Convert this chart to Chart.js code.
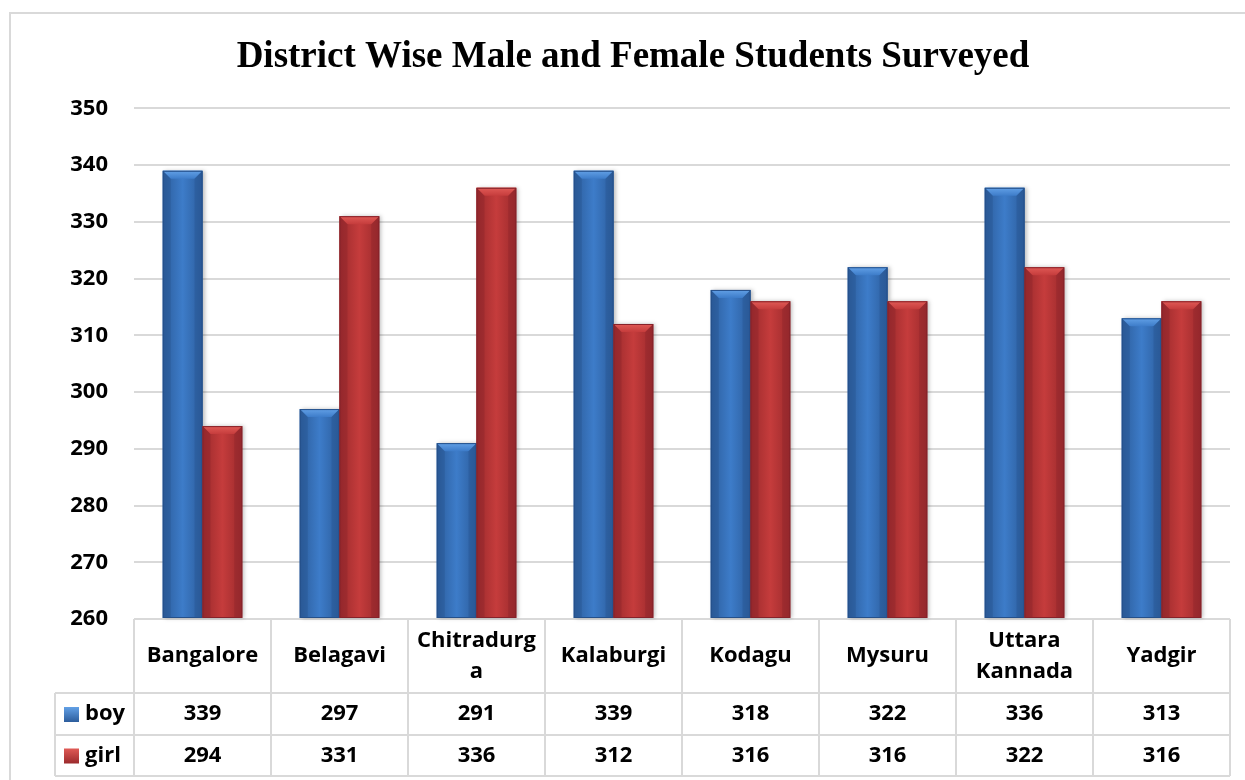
<!DOCTYPE html>
<html>
<head>
<meta charset="utf-8">
<title>District Wise Male and Female Students Surveyed</title>
<script src="https://cdn.jsdelivr.net/npm/chart.js@4.4.1/dist/chart.umd.min.js"></script>
<style>
  html, body { margin: 0; padding: 0; background: #fff; }
  #wrap { position: relative; width: 1245px; height: 780px; }
</style>
</head>
<body>
<div id="wrap"><canvas id="surveyChart" width="1245" height="780"></canvas></div>
<script>
// ===== DATA =====
const districts = [
    ['Bangalore'], ['Belagavi'], ['Chitradurg', 'a'], ['Kalaburgi'],
    ['Kodagu'], ['Mysuru'], ['Uttara', 'Kannada'], ['Yadgir']
];
const boyCounts = [339, 297, 291, 339, 318, 322, 336, 313];
const girlCounts = [294, 331, 336, 312, 316, 316, 322, 316];
const yTicks = [260, 270, 280, 290, 300, 310, 320, 330, 340, 350];

const labelFamily = '"Open Sans", "Noto Sans", sans-serif';
const labelFont = 'bold 22px ' + labelFamily;
const gridColor = '#d9d9d9';

// bar shading: [edge, middle, bevel light, bevel dark]
const shades = {
    boy: ['#2c5d9c', '#3d7cc9', '#62a0e6', '#25508a'],
    girl: ['#9b2a2c', '#c53c3c', '#e05a56', '#86222a']
};

// ===== PLUGINS =====
// repaints each bar with a bevelled, gradient look
const bevelBars = {
    id: 'bevelBars',
    afterDatasetsDraw(chart) {
        const ctx = chart.ctx;
        chart.data.datasets.forEach((ds, i) => {
            const s = shades[ds.key];
            chart.getDatasetMeta(i).data.forEach(bar => {
                const left = bar.x - bar.width / 2;
                const right = bar.x + bar.width / 2;
                const top = bar.y;
                const bottom = bar.base;
                const b = 8;
                ctx.save();
                ctx.shadowColor = 'rgba(0,0,0,0.25)';
                ctx.shadowBlur = 4;
                ctx.shadowOffsetX = 2;
                const g = ctx.createLinearGradient(left, 0, right, 0);
                g.addColorStop(0, s[0]);
                g.addColorStop(0.5, s[1]);
                g.addColorStop(1, s[0]);
                ctx.fillStyle = g;
                ctx.fillRect(left, top, right - left, bottom - top);
                ctx.restore();

                ctx.save();
                // top bevel
                const tg = ctx.createLinearGradient(0, top, 0, top + b);
                tg.addColorStop(0, s[2]);
                tg.addColorStop(1, s[1]);
                ctx.fillStyle = tg;
                ctx.beginPath();
                ctx.moveTo(left, top);
                ctx.lineTo(right, top);
                ctx.lineTo(right - b, top + b);
                ctx.lineTo(left + b, top + b);
                ctx.closePath();
                ctx.fill();
                // side bevels
                ctx.globalAlpha = 0.35;
                ctx.fillStyle = s[3];
                ctx.beginPath();
                ctx.moveTo(right, top);
                ctx.lineTo(right, bottom);
                ctx.lineTo(right - b, bottom);
                ctx.lineTo(right - b, top + b);
                ctx.closePath();
                ctx.fill();
                ctx.beginPath();
                ctx.moveTo(left, top);
                ctx.lineTo(left, bottom);
                ctx.lineTo(left + b, bottom);
                ctx.lineTo(left + b, top + b);
                ctx.closePath();
                ctx.fill();
                ctx.globalAlpha = 1;
                ctx.strokeStyle = s[3];
                ctx.lineWidth = 1;
                ctx.strokeRect(left + 0.5, top + 0.5, right - left - 1, bottom - top - 1);
                ctx.restore();
            });
        });
    }
};

// data table under the plot area plus the outer frame
const dataTable = {
    id: 'dataTable',
    afterDraw(chart) {
        const ctx = chart.ctx;
        const area = chart.chartArea;
        const x = chart.scales.x;
        const step = (area.right - area.left) / districts.length;
        const rowTop = area.bottom;
        const row1 = rowTop + 74;
        const row2 = row1 + 42;
        const row3 = row2 + 41;
        const keyLeft = 55;

        ctx.save();
        ctx.strokeStyle = gridColor;
        ctx.lineWidth = 2;
        // outer frame
        ctx.strokeRect(10, 13, 1260, 800);

        ctx.beginPath();
        [row1, row2, row3].forEach(y => {
            ctx.moveTo(keyLeft, y);
            ctx.lineTo(area.right, y);
        });
        ctx.moveTo(keyLeft, row1);
        ctx.lineTo(keyLeft, row3);
        for (let i = 0; i <= districts.length; i++) {
            const lx = area.left + i * step;
            ctx.moveTo(lx, rowTop);
            ctx.lineTo(lx, row3);
        }
        ctx.stroke();

        ctx.fillStyle = '#000';
        ctx.font = labelFont;
        ctx.textAlign = 'center';
        ctx.textBaseline = 'middle';
        districts.forEach((lines, i) => {
            const cx = x.getPixelForValue(i);
            const mid = (rowTop + row1) / 2;
            const lh = 31;
            lines.forEach((t, j) => {
                ctx.fillText(t, cx, mid + (j - (lines.length - 1) / 2) * lh);
            });
            ctx.fillText(String(boyCounts[i]), cx, (row1 + row2) / 2);
            ctx.fillText(String(girlCounts[i]), cx, (row2 + row3) / 2);
        });

        // legend keys
        chart.data.datasets.forEach((ds, i) => {
            const s = shades[ds.key];
            const cy = i === 0 ? (row1 + row2) / 2 : (row2 + row3) / 2;
            const g = ctx.createLinearGradient(0, cy - 7, 0, cy + 8);
            g.addColorStop(0, s[2]);
            g.addColorStop(1, s[0]);
            ctx.fillStyle = g;
            ctx.fillRect(64, cy - 7, 15, 15);
            ctx.textAlign = 'left';
            ctx.fillStyle = '#000';
            ctx.fillText(ds.label, 85, cy);
        });
        ctx.restore();
    }
};

// ===== CHART =====
const surveyCtx = document.getElementById('surveyChart');

const surveyChart = new Chart(surveyCtx, {
    type: 'bar',
    data: {
        labels: districts.map(d => d.join('')),
        datasets: [
            { key: 'boy', label: 'boy', data: boyCounts, backgroundColor: shades.boy[1] },
            { key: 'girl', label: 'girl', data: girlCounts, backgroundColor: shades.girl[1] }
        ]
    },
    options: {
        responsive: false,
        animation: false,
        layout: { padding: { left: 36, right: 15, top: 0, bottom: 161 } },
        datasets: {
            bar: { categoryPercentage: 0.58, barPercentage: 1.0, base: 260 }
        },
        plugins: {
            legend: { display: false },
            tooltip: { enabled: false },
            title: {
                display: true,
                text: 'District Wise Male and Female Students Surveyed',
                color: '#000',
                font: { family: '"Liberation Serif", "Times New Roman", serif', size: 37, weight: 'bold' },
                padding: { top: 35, bottom: 29 }
            }
        },
        scales: {
            x: { display: false },
            y: {
                min: 260,
                max: 350,
                afterFit(scale) { scale.width = 98; },
                afterBuildTicks(scale) { scale.ticks = yTicks.map(v => ({ value: v })); },
                border: { display: false },
                grid: { color: gridColor, lineWidth: 2, drawTicks: false },
                ticks: {
                    color: '#000',
                    padding: 26,
                    font: { family: labelFamily, size: 22, weight: 'bold' }
                }
            }
        }
    },
    plugins: [bevelBars, dataTable]
});
</script>
</body>
</html>
